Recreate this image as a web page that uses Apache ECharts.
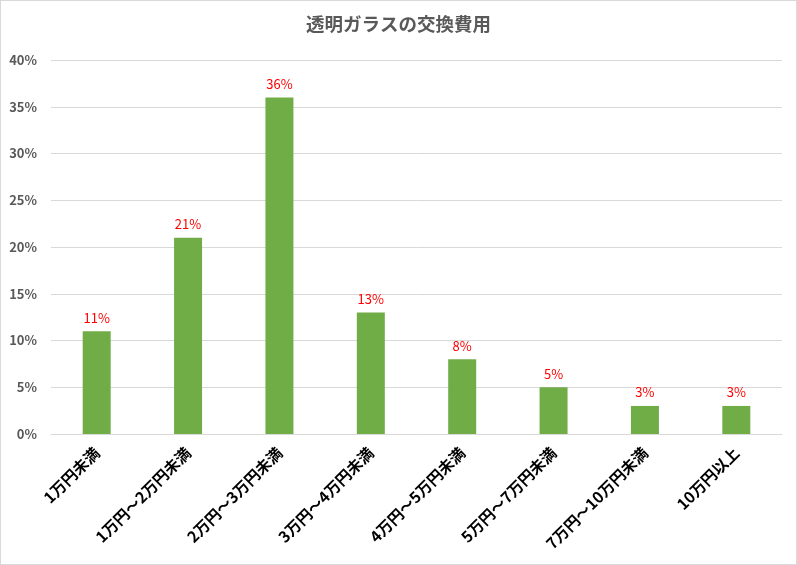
<!DOCTYPE html>
<html><head><meta charset="utf-8">
<script src="https://cdn.jsdelivr.net/npm/echarts@6/dist/echarts.min.js"></script>
<style>html,body{margin:0;padding:0;background:#fff}#c{width:797px;height:565px;box-sizing:border-box;border:1px solid #d9d9d9}</style>
</head><body><div id="c"></div>
<script>
const categories = ['1万円未満','1万円～2万円未満','2万円～3万円未満','3万円～4万円未満','4万円～5万円未満','5万円～7万円未満','7万円～10万円未満','10万円以上'];
const values = [11, 21, 36, 13, 8, 5, 3, 3];
const yMin = 0, yMax = 40, yStep = 5;
const titleText = '透明ガラスの交換費用';
const FONT = '"Noto Sans CJK JP", "Noto Sans", sans-serif';
const chart = echarts.init(document.getElementById('c'), null, {renderer:'canvas'});
chart.setOption({
  animation:false,
  title:{text:titleText,left:'center',top:9,textStyle:{fontFamily:FONT,fontSize:18.5,fontWeight:'bold',color:'#595959'}},
  grid:{left:50,right:14,top:59,bottom:130,containLabel:false},
  xAxis:{type:'category',data:categories,
    axisLine:{lineStyle:{color:'#d9d9d9'}},axisTick:{show:false},
    axisLabel:{rotate:45,interval:0,margin:16,fontFamily:FONT,fontSize:15.5,fontWeight:'bold',color:'#000'}},
  yAxis:{type:'value',min:yMin,max:yMax,interval:yStep,
    axisLine:{show:false},axisTick:{show:false},
    splitLine:{lineStyle:{color:'#d9d9d9'}},
    axisLabel:{formatter:'{value}%',margin:14,fontFamily:FONT,fontSize:13,fontWeight:'bold',color:'#595959'}},
  series:[{type:'bar',data:values,barWidth:28,itemStyle:{color:'#70AD47'},
    label:{show:true,position:'top',distance:7,formatter:'{c}%',color:'#FF0000',fontFamily:FONT,fontSize:13}}]
});
</script></body></html>
